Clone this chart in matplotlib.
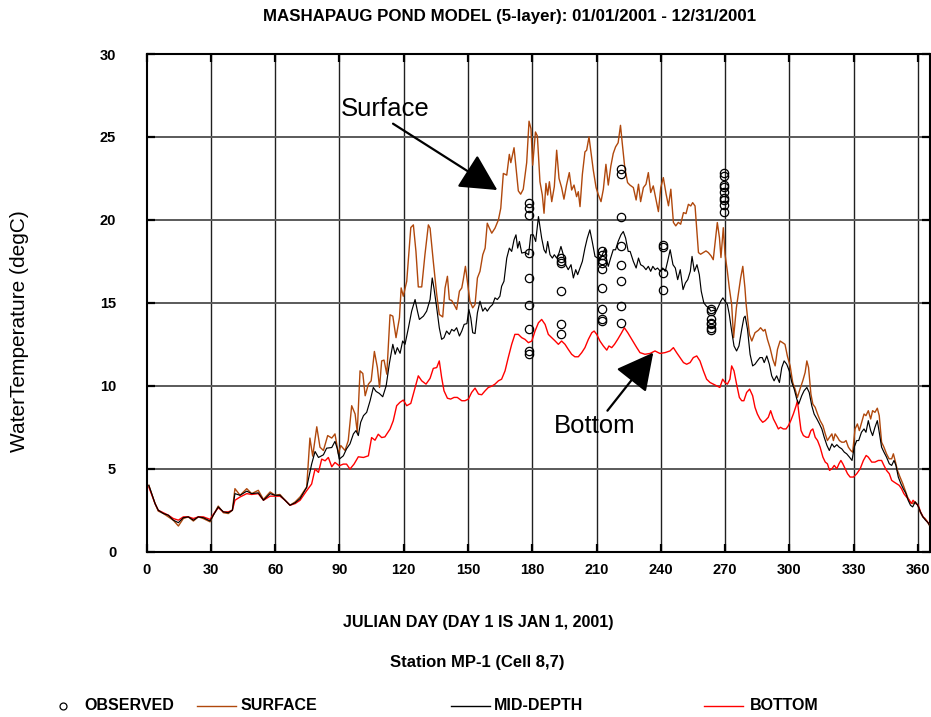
import numpy as np
import matplotlib
matplotlib.use("Agg")
import matplotlib.pyplot as plt
from matplotlib.lines import Line2D

plt.rcParams['font.family'] = ['Liberation Sans', 'DejaVu Sans']

# ---------------- data ----------------
early_days = [1, 3.9, 5.4, 7.8, 10.1, 12.4, 14.8, 17.1, 19.4, 21.8, 24.1, 26.4, 29.6, 31.1, 33.4,
              35.8, 38.1, 40.0, 41.2, 43.6, 46.7, 49.0, 52.1, 54.5, 57.6, 60.0, 62.2, 64.6, 66.9,
              69.3, 71.6, 74.7]
surf_early = [4.0, 2.9, 2.45, 2.3, 2.1, 1.9, 1.55, 2.0, 2.1, 1.85, 2.1, 2.0, 1.8, 2.2, 2.75, 2.35,
              2.3, 2.5, 3.8, 3.4, 3.8, 3.5, 3.7, 3.15, 3.6, 3.4, 3.45, 3.1, 2.8, 3.0, 3.3, 3.9]
mid_early = [4.0, 2.9, 2.5, 2.3, 2.2, 1.9, 1.75, 2.05, 2.1, 1.9, 2.1, 2.05, 1.85, 2.2, 2.7, 2.4,
             2.35, 2.5, 3.5, 3.4, 3.65, 3.5, 3.55, 3.1, 3.5, 3.4, 3.4, 3.1, 2.8, 2.95, 3.2, 3.88]
bot_early = [3.9, 2.9, 2.5, 2.35, 2.2, 2.0, 1.9, 2.1, 2.1, 2.0, 2.1, 2.1, 1.95, 2.25, 2.65, 2.4,
             2.4, 2.5, 3.1, 3.3, 3.5, 3.45, 3.5, 3.1, 3.35, 3.35, 3.35, 3.1, 2.8, 2.9, 3.1, 3.68]

surf_days = [76.2, 77.5, 79.4, 80.9, 82.5, 84.5, 86.4, 87.9, 89.5, 90.6, 92.6, 94.1, 95.7, 97.3, 98.3,
             99.6, 100.9, 102.0, 103.5, 104.8, 106.3, 107.7, 108.7, 109.7, 110.8, 112.1, 113.6, 114.9,
             116.4, 118.0, 118.8, 119.8, 121.4, 123.3, 124.5, 125.7, 126.8, 128.4, 129.9, 131.5, 132.3,
             133.8, 135.4, 136.6, 138.2, 139.3, 140.4, 141.3, 142.4, 143.5, 144.7, 146.0, 147.1, 147.8,
             148.8, 149.7, 150.9, 152.2, 153.3, 154.4, 155.6, 156.9, 158.0, 159.0, 160.0, 161.1, 162.6,
             164.2, 165.3, 166.5, 168.1, 169.3, 170.0, 171.5, 172.4, 173.5, 174.6, 175.8, 177.4, 178.5,
             179.4, 180.2, 181.5, 182.4, 183.6, 184.7, 185.5, 186.4, 187.2, 188.0, 189.1, 190.3, 191.4,
             192.5, 193.7, 194.8, 196.0, 197.3, 198.4, 199.5, 200.7, 201.5, 202.3, 203.4, 204.6, 205.4,
             206.5, 207.3, 208.5, 209.8, 210.9, 212.1, 213.2, 214.4, 215.5, 216.7, 217.8, 218.9, 220.1,
             221.2, 222.0, 223.2, 224.5, 225.6, 227.2, 228.5, 229.6, 230.6, 231.9, 233.1, 234.2, 235.3,
             236.5, 237.8, 238.9, 240.0, 241.2, 242.5, 243.6, 244.7, 245.9, 247.0, 248.2, 249.3, 250.6,
             251.8, 252.9, 254.0, 254.9, 256.0, 257.6, 258.6, 259.9, 261.1, 262.2, 263.5, 264.5, 265.6,
             266.4, 267.4, 268.1, 269.2, 270.0, 271.1, 272.0, 273.1, 274.0, 275.3, 276.3, 277.3, 278.3,
             279.3, 279.8, 280.6, 281.4, 282.5, 284.0, 285.6, 286.6, 287.9, 288.7, 289.8, 291.0, 292.3,
             293.4, 294.5, 295.7, 296.9, 298.0, 299.1, 300.4, 301.6, 302.7, 303.8, 305.0, 306.3, 307.4,
             308.2, 309.0, 310.1, 311.0, 312.1, 313.2, 314.4, 315.7, 316.8, 317.8, 318.8, 319.9, 320.6,
             321.4, 322.5, 323.4, 324.5, 325.6, 326.5, 327.6, 328.7, 329.6, 330.7, 331.8, 332.7, 333.8,
             334.9, 335.8, 336.9, 338.0, 338.9, 340.0, 341.1, 342.0, 343.1, 344.2, 345.4, 346.6, 347.8,
             348.6, 349.4, 350.5, 351.7, 353.0, 354.1, 355.2, 356.4, 357.6, 358.8, 360.0, 361.1, 362.3,
             363.4, 364.5, 365.4]
surf_vals = [6.85, 5.76, 7.53, 6.3, 6.1, 7.0, 6.85, 7.1, 5.9, 6.4, 6.1, 6.7, 8.8, 8.3, 7.2,
             10.9, 10.74, 9.4, 10.1, 10.3, 12.07, 11.1, 9.9, 11.5, 11.55, 10.7, 14.28, 14.2,
             12.9, 14.1, 15.9, 15.4, 16.3, 19.54, 19.7, 18.1, 15.96, 15.96, 17.9, 19.7, 19.5,
             17.5, 15.5, 14.3, 14.15, 15.9, 16.6, 15.2, 15.14, 14.9, 14.6, 15.7, 15.9, 16.4,
             17.2, 16.3, 15.1, 14.7, 14.9, 16.5, 16.9, 17.9, 18.3, 19.8, 19.5, 19.2, 19.5,
             20.0, 20.7, 22.8, 22.7, 23.95, 23.45, 24.35, 23.15, 21.75, 21.55, 21.85, 23.45, 25.95,
             25.5, 23.3, 25.3, 25.05, 22.3, 21.5, 20.4, 22.2, 21.5, 22.3, 21.1, 22.0, 24.2,
             22.5, 21.95, 21.25, 22.1, 22.85, 21.8, 22.1, 21.4, 21.7, 20.8, 22.75, 24.1, 24.2,
             25.0, 24.2, 23.0, 21.95, 21.5, 21.1, 21.85, 23.35, 22.1, 23.25, 24.0, 24.4, 24.65,
             25.7, 24.65, 23.15, 22.25, 22.1, 21.95, 21.2, 22.15, 21.1, 21.95, 22.15, 22.85, 21.65,
             22.05, 21.2, 20.5, 21.95, 22.55, 21.55, 20.85, 21.85, 19.85, 19.64, 19.85, 19.74, 20.44,
             20.38, 20.94, 20.84, 21.04, 20.84, 18.03, 17.93, 18.03, 18.13, 18.03, 17.83, 17.6, 18.9,
             19.84, 18.93, 17.73, 19.53, 17.93, 16.9, 15.9, 14.9, 12.9, 14.7, 15.6, 16.5, 17.2,
             15.9, 15.0, 14.0, 13.1, 12.7, 13.2, 13.35, 13.5, 13.3, 13.4, 12.8, 12.3, 11.6,
             11.2, 12.2, 12.7, 12.6, 12.5, 11.8, 11.2, 10.2, 9.8, 9.3, 9.8, 10.3, 10.8,
             11.5, 11.1, 9.5, 8.9, 8.7, 8.3, 7.9, 7.6, 7.1, 6.7, 6.9, 7.1, 6.7,
             7.1, 6.9, 6.7, 6.6, 6.6, 6.7, 6.3, 6.1, 6.0, 7.4, 7.7, 7.3, 7.8,
             8.3, 8.2, 8.5, 8.0, 8.5, 8.4, 8.65, 8.2, 6.6, 6.3, 5.9, 5.6, 5.6,
             5.9, 5.5, 4.9, 4.5, 4.1, 3.7, 3.3, 3.0, 2.9, 3.0, 2.8, 2.4, 2.1,
             2.0, 1.8, 1.6]

mid_days = [77.0, 78.6, 80.2, 82.5, 84.0, 86.4, 87.9, 89.0, 89.9, 91.8, 93.3, 94.9, 96.5, 97.7, 98.8,
            99.9, 101.2, 102.7, 104.3, 105.8, 107.1, 108.6, 110.2, 111.8, 113.3, 114.9, 116.0, 117.0,
            118.3, 119.5, 120.6, 122.2, 123.7, 125.3, 126.4, 127.3, 129.2, 130.7, 132.3, 133.3, 134.1,
            135.4, 136.6, 137.7, 138.8, 140.0, 141.3, 142.4, 143.5, 144.7, 146.0, 147.1, 148.2, 149.5,
            150.4, 151.3, 152.2, 153.3, 154.4, 155.6, 156.9, 158.0, 159.0, 160.3, 161.5, 162.6, 163.7,
            164.9, 165.7, 166.8, 168.1, 169.3, 170.4, 171.5, 172.4, 173.2, 174.0, 175.1, 176.6, 178.3,
            179.3, 180.5, 181.6, 182.9, 184.4, 185.5, 186.4, 187.2, 188.3, 189.4, 190.3, 191.4, 192.5,
            193.4, 194.5, 195.6, 196.8, 198.1, 199.2, 200.3, 201.2, 202.3, 203.4, 204.6, 205.7, 206.9,
            208.0, 209.3, 210.5, 211.6, 212.7, 214.0, 214.7, 215.5, 216.6, 217.8, 218.9, 220.1, 221.4,
            222.5, 223.6, 224.8, 225.7, 227.2, 228.5, 229.6, 230.6, 231.9, 233.1, 234.2, 235.3, 236.3,
            237.4, 238.5, 239.8, 240.9, 242.1, 243.2, 244.4, 245.7, 246.8, 247.9, 249.1, 250.4, 251.5,
            252.6, 253.8, 254.6, 255.7, 256.9, 258.0, 258.9, 260.1, 261.3, 262.4, 263.4, 264.7, 265.9,
            267.0, 268.0, 269.0, 270.0, 271.1, 272.0, 273.1, 274.2, 275.4, 276.5, 277.8, 278.8, 279.4,
            280.5, 281.7, 282.9, 284.0, 285.1, 286.3, 287.4, 288.3, 289.5, 290.7, 291.8, 292.9, 294.1,
            295.4, 296.5, 297.6, 298.8, 300.0, 301.2, 302.3, 303.5, 304.4, 305.8, 306.9, 308.2, 309.3,
            310.5, 311.6, 312.9, 314.1, 315.2, 316.3, 317.6, 318.7, 319.9, 321.0, 322.2, 323.3, 324.5,
            325.7, 326.8, 328.1, 329.3, 330.3, 331.5, 332.4, 333.7, 334.9, 335.8, 336.9, 338.0, 338.9,
            340.0, 341.1, 342.0, 343.1, 344.2, 345.4, 346.7, 347.8, 348.9, 349.8, 350.9, 352.1, 353.2,
            354.5, 355.5, 356.6, 357.6, 358.8, 360.0, 361.2, 362.4, 363.6, 364.8, 365.4]
mid_vals = [5.28, 6.04, 5.68, 5.84, 6.24, 6.28, 6.65, 6.2, 5.58, 5.78, 6.2, 6.5, 7.1, 7.3, 7.0,
            7.8, 8.2, 8.4, 9.1, 9.9, 9.66, 9.54, 9.34, 10.0, 11.35, 12.5, 11.9, 12.3,
            11.96, 12.7, 12.5, 13.5, 14.5, 15.2, 14.5, 14.0, 14.2, 14.5, 15.2, 16.5, 15.9,
            14.7, 13.5, 12.8, 12.9, 13.3, 13.1, 13.4, 13.3, 13.5, 13.0, 13.3, 13.7, 13.75,
            14.6, 14.1, 13.2, 13.15, 14.4, 15.1, 14.5, 14.7, 14.5, 14.75, 14.9, 15.3, 15.2,
            15.4, 16.0, 16.3, 17.7, 18.3, 18.1, 18.8, 19.1, 18.3, 18.7, 18.0, 18.05, 17.9,
            19.1, 19.1, 18.7, 20.2, 18.9, 18.2, 18.0, 18.7, 17.9, 17.7, 17.9, 17.7, 18.0,
            18.4, 17.9, 17.3, 17.0, 17.3, 16.5, 17.0, 16.7, 17.1, 17.5, 18.3, 18.9, 19.4,
            18.7, 17.8, 17.7, 17.6, 17.9, 18.3, 17.6, 17.2, 17.7, 18.2, 18.2, 18.7, 19.1,
            19.3, 18.9, 18.1, 18.1, 17.5, 17.1, 17.7, 17.3, 17.2, 17.0, 17.2, 16.9, 17.2,
            17.0, 17.1, 16.9, 17.1, 16.9, 17.5, 18.2, 17.3, 17.1, 16.4, 17.0, 15.8, 16.2,
            16.4, 16.9, 17.8, 16.9, 17.3, 16.7, 15.7, 15.0, 14.8, 14.7, 14.5, 14.55, 14.5,
            14.8, 15.1, 15.3, 15.1, 14.9, 14.3, 13.3, 12.4, 12.1, 12.4, 13.4, 14.1, 14.2,
            13.4, 11.9, 11.2, 11.3, 11.5, 11.7, 11.7, 11.4, 11.8, 11.3, 10.6, 10.3, 10.6,
            10.2, 11.1, 11.5, 11.3, 10.9, 10.2, 9.8, 9.2, 8.9, 9.4, 9.7, 9.9, 9.6,
            8.8, 8.3, 8.0, 7.7, 7.4, 6.9, 6.4, 6.1, 6.5, 6.3, 6.45, 6.3, 6.2,
            6.0, 5.9, 5.7, 5.5, 6.3, 6.7, 6.7, 7.2, 7.4, 7.2, 7.9, 7.3, 7.0,
            7.5, 7.9, 7.2, 6.3, 6.0, 5.7, 5.3, 5.2, 5.5, 5.2, 4.5, 4.1, 3.8,
            3.5, 3.1, 2.8, 2.7, 3.0, 2.8, 2.4, 2.1, 1.9, 1.75, 1.6]

bot_days = [77.0, 78.6, 80.2, 81.7, 83.3, 84.8, 86.4, 87.9, 89.9, 91.8, 93.3, 94.9, 96.8, 98.8, 101.2,
            103.5, 105.0, 106.6, 108.1, 109.7, 111.2, 113.6, 115.1, 116.7, 118.2, 119.8, 121.4, 123.3,
            125.3, 126.8, 128.4, 130.4, 132.3, 133.8, 135.4, 136.6, 137.7, 138.8, 140.4, 141.9, 143.5,
            145.0, 147.1, 148.6, 150.2, 151.7, 153.3, 154.9, 156.4, 158.0, 159.5, 161.1, 162.6, 164.2,
            165.7, 167.3, 168.8, 170.4, 171.9, 173.5, 175.1, 176.6, 178.2, 179.8, 181.3, 182.9, 184.4,
            186.0, 187.5, 189.1, 190.7, 192.2, 193.7, 195.3, 196.8, 198.4, 199.9, 201.5, 203.1, 204.6,
            206.2, 207.8, 208.9, 210.1, 211.6, 213.2, 214.8, 215.8, 217.1, 218.4, 219.9, 221.5, 223.0,
            224.6, 226.0, 227.4, 228.8, 230.3, 232.6, 235.0, 237.3, 239.6, 242.0, 244.3, 245.9, 247.4,
            249.0, 250.6, 252.1, 253.7, 255.2, 256.8, 258.3, 259.9, 261.4, 263.0, 264.5, 266.1, 267.6,
            268.9, 270.0, 271.1, 272.3, 273.1, 274.2, 275.4, 276.7, 277.8, 278.8, 280.1, 281.5, 282.9,
            284.0, 285.1, 286.3, 287.6, 288.8, 290.2, 291.3, 292.6, 293.8, 294.9, 295.9, 297.2, 298.5,
            299.6, 300.7, 301.9, 303.2, 303.8, 304.7, 305.5, 306.6, 307.9, 309.0, 310.1, 311.0, 312.1,
            313.2, 314.4, 315.7, 316.8, 317.8, 318.8, 319.9, 321.0, 322.2, 323.2, 324.1, 325.0, 326.1,
            327.2, 328.4, 330.0, 331.5, 333.1, 334.6, 335.9, 336.9, 338.5, 340.0, 341.6, 343.1, 344.2,
            345.4, 346.7, 347.8, 348.9, 350.1, 351.3, 352.4, 353.5, 354.7, 356.0, 357.0, 357.8, 359.1,
            360.2, 361.3, 362.5, 363.8, 365.1]
bot_vals = [4.08, 4.98, 4.78, 5.58, 5.48, 5.68, 5.12, 5.38, 5.18, 5.28, 5.28, 4.98, 5.28, 5.72, 5.68,
            5.78, 6.88, 6.72, 7.08, 6.88, 6.92, 7.39, 7.89, 8.8, 9.0, 9.14, 8.8, 8.94,
            9.9, 10.6, 10.3, 10.1, 10.45, 11.05, 11.1, 11.5, 10.5, 9.7, 9.25, 9.2, 9.3,
            9.3, 9.1, 9.1, 9.2, 9.6, 9.86, 9.5, 9.46, 9.7, 9.9, 9.98, 10.1, 10.3,
            10.4, 10.9, 11.7, 12.5, 13.1, 13.1, 12.9, 12.8, 12.6, 12.7, 13.3, 13.8, 14.0,
            13.7, 13.1, 12.9, 12.7, 12.5, 12.7, 12.5, 12.2, 11.9, 11.75, 11.75, 12.0, 12.3,
            12.8, 13.2, 13.3, 13.1, 12.7, 12.4, 12.15, 12.4, 12.3, 12.5, 12.8, 13.15, 13.5,
            13.2, 12.9, 12.6, 12.3, 12.0, 11.9, 11.95, 12.1, 11.95, 12.0, 12.1, 12.3, 12.0,
            11.7, 11.4, 11.3, 11.4, 11.7, 11.8, 11.5, 10.9, 10.4, 10.2, 10.1, 10.0, 9.9,
            10.4, 10.2, 10.1, 10.4, 11.2, 10.9, 10.1, 9.3, 9.1, 9.1, 9.6, 9.8, 9.4,
            8.7, 8.3, 8.0, 7.8, 7.9, 8.1, 8.5, 8.0, 7.7, 7.4, 7.5, 7.4, 7.4,
            7.6, 7.9, 8.3, 8.8, 9.1, 8.1, 7.3, 7.0, 6.9, 6.9, 7.3, 7.4, 6.9,
            6.7, 6.3, 5.7, 5.4, 5.3, 4.9, 5.0, 5.2, 5.0, 5.3, 5.5, 5.3, 5.0,
            4.7, 4.5, 4.5, 4.7, 5.0, 5.5, 5.8, 5.7, 5.4, 5.4, 5.5, 5.5, 5.2,
            4.9, 4.7, 4.3, 4.2, 4.1, 4.0, 3.8, 3.5, 3.3, 3.1, 2.9, 3.1, 2.9,
            2.8, 2.4, 2.1, 1.9, 1.7]

obs_days = [178.5, 193.3, 212.4, 221.5, 241.2, 263.3, 269.6]
obs_vals = [
    [21.0, 20.7, 20.3, 18.0, 16.5, 14.9, 13.4, 12.1, 11.9],
    [17.7, 17.5, 17.4, 15.7, 13.75, 13.15],
    [18.1, 17.9, 17.6, 17.4, 17.05, 15.9, 14.6, 14.0, 13.9],
    [23.05, 22.75, 20.2, 18.4, 17.3, 16.3, 14.8, 13.8],
    [18.5, 18.35, 16.8, 15.8],
    [14.6, 14.5, 14.0, 13.8, 13.7, 13.5, 13.35],
    [22.8, 22.65, 22.1, 22.0, 21.7, 21.3, 21.2, 20.9, 20.45],
]

x_ticks = [0, 30, 60, 90, 120, 150, 180, 210, 240, 270, 300, 330, 360]
y_ticks = [0, 5, 10, 15, 20, 25, 30]

SURF_C = '#B0480C'
MID_C = '#000000'
BOT_C = '#FF0000'

# ---------------- figure ----------------
W, H = 931, 717
fig = plt.figure(figsize=(W / 100, H / 100), dpi=100)
L, R, T, B = 146.7, 930.0, 54.0, 551.7
ax = fig.add_axes([L / W, 1 - B / H, (R - L) / W, (B - T) / H])

ax.set_xlim(0, 365.7)
ax.set_ylim(0, 30)
ax.set_xticks(x_ticks)
ax.set_yticks(y_ticks)
for v in x_ticks[1:]:
    ax.axvline(v, color='#202020', lw=1.0, zorder=0)
for v in y_ticks[1:-1]:
    ax.axhline(v, color='#5a5a5a', lw=1.4, zorder=0)

ax.tick_params(direction='in', length=6, width=1.6, top=True, right=True,
               labelsize=10.5)
ax.tick_params(axis='x', pad=8)
ax.tick_params(axis='y', pad=22)
for lab in ax.get_xticklabels() + ax.get_yticklabels():
    lab.set_fontweight('bold')
for s in ax.spines.values():
    s.set_linewidth(1.5)

ax.plot(early_days + surf_days, surf_early + surf_vals, color=SURF_C, lw=1.0, zorder=3)
ax.plot(early_days + mid_days, mid_early + mid_vals, color=MID_C, lw=0.85, zorder=4)
ax.plot(early_days + bot_days, bot_early + bot_vals, color=BOT_C, lw=1.0, zorder=3)

ox, oy = [], []
for d, vals in zip(obs_days, obs_vals):
    ox += [d] * len(vals)
    oy += vals
ax.plot(ox, oy, linestyle='none', marker='o', ms=6, mfc='none', mec='black', mew=0.9, zorder=5)

# annotations
arrow_kw = dict(arrowstyle='-|>,head_length=1.15,head_width=0.6', color='black',
                lw=1.6, mutation_scale=20, shrinkA=0, shrinkB=0)
ax.text(111.5, 26.7, 'Surface', fontsize=18.5, ha='center', va='center')
ax.annotate('', xy=(163.7, 21.8), xytext=(115.0, 25.8), arrowprops=arrow_kw)
ax.text(209.3, 7.6, 'Bottom', fontsize=18.5, ha='center', va='center')
ax.annotate('', xy=(236.5, 12.0), xytext=(215.1, 8.5), arrowprops=arrow_kw)

# texts
fig.text(509.5 / W, 1 - 17 / H, 'MASHAPAUG POND MODEL (5-layer): 01/01/2001 - 12/31/2001',
         ha='center', va='center', fontsize=12.2, fontweight='bold')
fig.text(20 / W, 1 - 331 / H, 'WaterTemperature (degC)', rotation=90,
         ha='center', va='center', fontsize=15)
fig.text(478.5 / W, 1 - 622 / H, 'JULIAN DAY (DAY 1 IS JAN 1, 2001)',
         ha='center', va='center', fontsize=11.6, fontweight='bold')
fig.text(477 / W, 1 - 663 / H, 'Station MP-1 (Cell 8,7)',
         ha='center', va='center', fontsize=12, fontweight='bold')

# legend (manual)
ly = 1 - 706 / H
LFS = 11.5
fig.add_artist(Line2D([63 / W], [ly], marker='o', ms=5, mfc='none', mec='black', mew=0.9,
                      linestyle='none', transform=fig.transFigure))
fig.text(84 / W, ly, 'OBSERVED', ha='left', va='center', fontsize=LFS, fontweight='bold')
fig.add_artist(Line2D([197 / W, 236 / W], [ly, ly], color=SURF_C, lw=1.0, transform=fig.transFigure))
fig.text(241 / W, ly, 'SURFACE', ha='left', va='center', fontsize=LFS, fontweight='bold')
fig.add_artist(Line2D([451 / W, 490 / W], [ly, ly], color=MID_C, lw=1.0, transform=fig.transFigure))
fig.text(494 / W, ly, 'MID-DEPTH', ha='left', va='center', fontsize=LFS, fontweight='bold')
fig.add_artist(Line2D([704 / W, 743 / W], [ly, ly], color=BOT_C, lw=1.0, transform=fig.transFigure))
fig.text(750 / W, ly, 'BOTTOM', ha='left', va='center', fontsize=LFS, fontweight='bold')

fig.savefig('out.png', dpi=100)
